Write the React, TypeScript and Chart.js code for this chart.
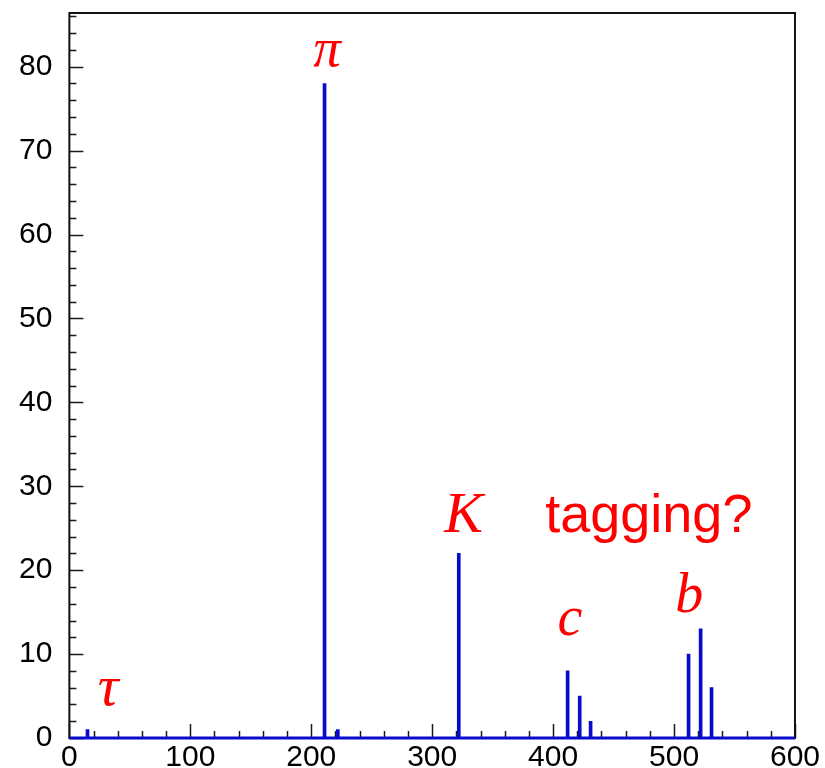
import React, { useEffect, useRef } from 'react';
import { Chart, registerables } from 'chart.js';

Chart.register(...registerables);

// Histogram bins (bin centre) and entries
const binCenters = [15, 211, 222, 322, 412, 422, 431, 512, 522, 531];
const binCounts = [1, 78, 1, 22, 8, 5, 2, 10, 13, 6];

// Axis ranges and tick steps
const xRange = [0, 600];
const yRange = [0, 86.4];
const xMajorStep = 100;
const xMinorStep = 20;
const yMajorStep = 10;
const yMinorStep = 2;

// Red text annotations (anchored in data coordinates)
const annotationTexts = ['π', 'K', 'tagging?', 'c', 'b', 'τ'];
const annotationX = [213, 326, 393.5, 414, 512.5, 32];
const annotationY = [80.1, 24.6, 24.6, 12.3, 15.0, 3.9];
const annotationAlign = ['center', 'center', 'left', 'center', 'center', 'center'];
const annotationFonts = [
  'italic 55px "Liberation Serif"',
  'italic 58px "Liberation Serif"',
  '54px "Liberation Sans"',
  'italic 56px "Liberation Serif"',
  'italic 56px "Liberation Serif"',
  'italic 58px "Liberation Serif"',
];

const HIST_BLUE = '#0a0acc';

const framePlugin = {
  id: 'frameAndTicks',
  beforeDatasetsDraw(chart: any) {
    const { ctx, chartArea: a, scales } = chart;
    const x = scales.x;
    const y = scales.y;
    ctx.save();
    ctx.strokeStyle = '#1a1a1a';
    ctx.lineWidth = 1.5;
    for (let v = xRange[0]; v <= xRange[1] + 1e-9; v += xMinorStep) {
      const px = Math.round(x.getPixelForValue(v)) + 0.5;
      const len = Math.abs(v % xMajorStep) < 1e-9 ? 14 : 7;
      ctx.beginPath();
      ctx.moveTo(px, a.bottom);
      ctx.lineTo(px, a.bottom - len);
      ctx.stroke();
    }
    for (let v = yRange[0]; v <= yRange[1] + 1e-9; v += yMinorStep) {
      const py = Math.round(y.getPixelForValue(v)) + 0.5;
      const len = Math.abs(v % yMajorStep) < 1e-9 ? 14 : 7;
      ctx.beginPath();
      ctx.moveTo(a.left, py);
      ctx.lineTo(a.left + len, py);
      ctx.stroke();
    }
    ctx.lineWidth = 2;
    ctx.strokeStyle = '#111';
    ctx.strokeRect(a.left, a.top, a.right - a.left, a.bottom - a.top);
    ctx.restore();
  },
  afterDatasetsDraw(chart: any) {
    const { ctx, scales } = chart;
    const x = scales.x;
    const y = scales.y;
    ctx.save();
    ctx.fillStyle = '#ff0000';
    ctx.textBaseline = 'alphabetic';
    annotationTexts.forEach((t, i) => {
      ctx.font = annotationFonts[i];
      ctx.textAlign = annotationAlign[i] as CanvasTextAlign;
      ctx.fillText(t, x.getPixelForValue(annotationX[i]), y.getPixelForValue(annotationY[i]));
    });
    ctx.restore();
  },
};

export default function App() {
  const canvasRef = useRef<HTMLCanvasElement | null>(null);

  useEffect(() => {
    document.body.style.margin = '0';
    const canvas = canvasRef.current;
    if (!canvas) return;
    const chart = new Chart(canvas, {
      type: 'bar',
      data: {
        datasets: [
          {
            type: 'line',
            data: [
              { x: xRange[0], y: 0 },
              { x: xRange[1], y: 0 },
            ],
            borderColor: HIST_BLUE,
            borderWidth: 3,
            pointRadius: 0,
            clip: false,
            order: 0,
          } as any,
          {
            type: 'bar',
            data: binCenters.map((c, i) => ({ x: c, y: binCounts[i] })),
            backgroundColor: HIST_BLUE,
            borderWidth: 0,
            barThickness: 3,
            grouped: false,
            order: 1,
          } as any,
        ],
      },
      options: {
        responsive: false,
        animation: false,
        devicePixelRatio: 1,
        layout: { padding: { left: 2, right: 30, top: 13, bottom: 0 } },
        plugins: {
          legend: { display: false },
          tooltip: { enabled: false },
        },
        scales: {
          x: {
            type: 'linear',
            min: xRange[0],
            max: xRange[1],
            offset: false,
            grid: { display: false, drawTicks: false, offset: false },
            border: { display: false },
            afterFit: (axis: any) => {
              axis.height = 30;
            },
            ticks: {
              stepSize: xMajorStep,
              includeBounds: false,
              padding: 5,
              color: '#000',
              maxRotation: 0,
              autoSkip: false,
              font: { family: 'Liberation Sans', size: 30, lineHeight: 1 },
            },
          },
          y: {
            type: 'linear',
            min: yRange[0],
            max: yRange[1],
            grid: { display: false, drawTicks: false },
            border: { display: false },
            afterFit: (axis: any) => {
              axis.paddingTop = 0;
              axis.paddingBottom = 0;
            },
            ticks: {
              stepSize: yMajorStep,
              includeBounds: false,
              padding: 17,
              color: '#000',
              autoSkip: false,
              callback: (v: any) => String(Math.round(Number(v))),
              font: { family: 'Liberation Sans', size: 30, lineHeight: 0.8 },
            },
          },
        },
      },
      plugins: [framePlugin],
    });
    return () => chart.destroy();
  }, []);

  return (
    <div style={{ width: 825, height: 768 }}>
      <canvas ref={canvasRef} width={825} height={768} />
    </div>
  );
}
